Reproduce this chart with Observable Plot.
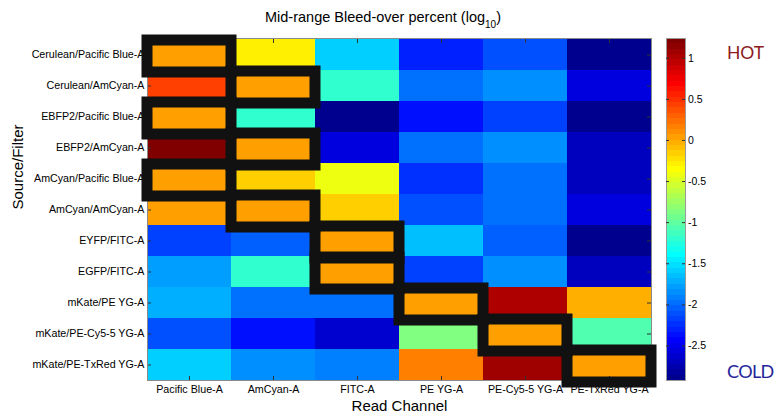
<!DOCTYPE html>
<html>
<head>
<meta charset="utf-8">
<script src="https://cdn.jsdelivr.net/npm/d3@7"></script>
<script src="https://cdn.jsdelivr.net/npm/@observablehq/plot@0.6"></script>
<style>
  body { margin: 0; background: #fff; }
  #c { position: relative; width: 774px; height: 416px; font-family: "Liberation Sans", Arial, sans-serif; color: #000; }
  #c svg { position: absolute; left: 0; top: 0; }
  g[aria-label="box"] { filter: drop-shadow(3px 3px 2px rgba(0,0,0,0.55)); }
  .title { position: absolute; left: 265px; top: 10px; font-size: 14.5px; line-height: 1; white-space: nowrap; }
  .title .sub { font-size: 10px; position: relative; top: 6px; }
  .hot, .cold { position: absolute; left: 727px; font-family: Lato, "Open Sans", sans-serif; font-size: 17.5px; line-height: 1; white-space: nowrap; }
  .hot { top: 44px; color: #8e1a1c; }
  .cold { top: 362px; color: #23259a; letter-spacing: -0.6px; font-size: 18px; }
</style>
</head>
<body>
<div id="c">
  <div class="title">Mid-range Bleed-over percent (log<span class="sub">10</span>)</div>
  <div class="hot">HOT</div>
  <div class="cold">COLD</div>
</div>
<script>
// Rows (Source/Filter) and columns (Read Channel)
const sources = [
  "Cerulean/Pacific Blue-A", "Cerulean/AmCyan-A", "EBFP2/Pacific Blue-A", "EBFP2/AmCyan-A",
  "AmCyan/Pacific Blue-A", "AmCyan/AmCyan-A", "EYFP/FITC-A", "EGFP/FITC-A",
  "mKate/PE YG-A", "mKate/PE-Cy5-5 YG-A", "mKate/PE-TxRed YG-A"
];
const channels = ["Pacific Blue-A", "AmCyan-A", "FITC-A", "PE YG-A", "PE-Cy5-5 YG-A", "PE-TxRed YG-A"];

// log10 bleed-over values, one array per read channel (in row order)
const pacificBlue = [0.05, 0.41, 0.05, 1.20, 0.05, 0.05, -2.16, -1.79, -1.70, -2.12, -1.58];
const amCyan      = [-0.32, 0.05, -1.23, 0.05, -0.15, 0.05, -2.04, -1.23, -1.95, -2.35, -1.83];
const fitc        = [-1.58, -1.23, -2.86, -2.58, -0.40, -0.17, 0.05, 0.05, -1.95, -2.62, -1.91];
const peYG        = [-2.31, -1.99, -2.39, -1.95, -2.23, -2.08, -1.66, -2.16, 0.05, -0.90, 0.16];
const peCy55      = [-2.12, -1.87, -2.16, -1.83, -1.99, -1.95, -2.04, -1.83, 0.98, 0.05, 1.07];
const peTxRed     = [-2.86, -2.54, -2.90, -2.70, -2.70, -2.54, -2.86, -2.66, -0.06, -1.04, 0.05];

// Highlighted (boxed) channel for each source row
const boxedChannel = ["Pacific Blue-A", "AmCyan-A", "Pacific Blue-A", "AmCyan-A", "Pacific Blue-A", "AmCyan-A",
  "FITC-A", "FITC-A", "PE YG-A", "PE-Cy5-5 YG-A", "PE-TxRed YG-A"];

// Colorbar
const colorDomain = [-2.92, 1.24];
const colorbarTicks = [1, 0.5, 0, -0.5, -1, -1.5, -2, -2.5];

// MATLAB jet(64) colormap
function jet64() {
  const n = 64, m = 16;
  const u = [];
  for (let i = 1; i <= m; i++) u.push(i / m);
  for (let i = 0; i < m - 1; i++) u.push(1);
  for (let i = m; i >= 1; i--) u.push(i / m);
  const J = Array.from({length: n}, () => [0, 0, 0]);
  const g = u.map((_, i) => 8 + i + 1);
  const r = g.map(v => v + m).filter(v => v <= n);
  const b = g.map(v => v - m).filter(v => v >= 1);
  r.forEach((idx, k) => J[idx - 1][0] = u[k]);
  g.forEach((idx, k) => J[idx - 1][1] = u[k]);
  b.forEach((idx, k) => J[idx - 1][2] = u[u.length - b.length + k]);
  return J.map(([R, G, B]) => `rgb(${Math.round(R * 255)},${Math.round(G * 255)},${Math.round(B * 255)})`);
}
const jetColors = jet64();
const jet = t => jetColors[Math.max(0, Math.min(63, Math.floor(t * 64)))];

const series = [pacificBlue, amCyan, fitc, peYG, peCy55, peTxRed];
const cells = sources.flatMap((s, i) => channels.map((c, j) => ({source: s, channel: c, value: series[j][i]})));
const boxes = boxedChannel.map((c, i) => ({source: sources[i], channel: c}));

const colorScale = {type: "linear", domain: colorDomain, interpolate: jet, clamp: true};

const main = Plot.plot({
  width: 774,
  height: 416,
  marginLeft: 147,
  marginRight: 123,
  marginTop: 38,
  marginBottom: 36,
  style: {fontFamily: "Liberation Sans, Arial, sans-serif", fontSize: "10.7px", color: "#000", background: "transparent", overflow: "visible"},
  x: {domain: channels, padding: 0, label: null, tickSize: 0, tickPadding: 5},
  y: {domain: sources, padding: 0, label: null, tickSize: 0, tickPadding: 3},
  color: colorScale,
  marks: [
    Plot.cell(cells, {x: "channel", y: "source", fill: "value"}),
    Plot.tickY(sources, {y: d => d, x: () => channels[0], insetRight: 80, stroke: "#333"}),
    Plot.tickY(sources, {y: d => d, x: () => channels[channels.length - 1], insetLeft: 80, stroke: "#333"}),
    Plot.tickX(channels, {x: d => d, y: () => sources[0], insetBottom: 27, stroke: "#333"}),
    Plot.tickX(channels, {x: d => d, y: () => sources[sources.length - 1], insetTop: 27, stroke: "#333"}),
    Plot.frame({stroke: "#8a8a8a"}),
    Plot.cell(boxes, {x: "channel", y: "source", fill: "none", stroke: "#111", strokeWidth: 11, dy: 1, insetBottom: -1, ariaLabel: "box"}),
    Plot.text(["Source/Filter"], {text: d => d, frameAnchor: "left", dx: -129.5, rotate: -90, fontSize: 15}),
    Plot.text(["Read Channel"], {text: d => d, frameAnchor: "bottom", dy: 30, fontSize: 15})
  ]
});

const span = colorDomain[1] - colorDomain[0];
const bands = d3.range(64).map(i => ({
  lo: colorDomain[0] + i * span / 64,
  hi: colorDomain[0] + (i + 1) * span / 64,
  v: colorDomain[0] + (i + 0.5) * span / 64
}));

const bar = Plot.plot({
  width: 774,
  height: 416,
  marginLeft: 666,
  marginRight: 89,
  marginTop: 38,
  marginBottom: 36,
  style: {fontFamily: "Liberation Sans, Arial, sans-serif", fontSize: "10.5px", color: "#000", background: "transparent", overflow: "visible"},
  x: {domain: [0, 1], axis: null},
  y: {domain: colorDomain, axis: null},
  color: colorScale,
  marks: [
    Plot.rect(bands, {x1: () => 0, x2: () => 1, y1: "lo", y2: "hi", fill: "v", shapeRendering: "crispEdges"}),
    Plot.frame({stroke: "#9a9a9a"}),
    Plot.tickY(colorbarTicks, {y: d => d, insetRight: 16, stroke: "#333"}),
    Plot.tickY(colorbarTicks, {y: d => d, insetLeft: 16, stroke: "#333"}),
    Plot.text(colorbarTicks, {y: d => d, text: d => String(d), frameAnchor: "right", dx: 2.5, textAnchor: "start", fontSize: 10.5})
  ]
});

const c = document.getElementById("c");
c.insertBefore(bar, c.firstChild);
c.insertBefore(main, c.firstChild);
</script>
</body>
</html>
